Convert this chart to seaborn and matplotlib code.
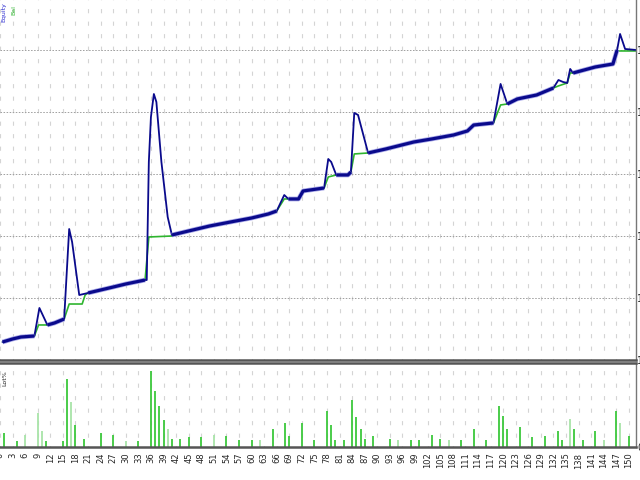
import numpy as np
import matplotlib
matplotlib.use("Agg")
import matplotlib.pyplot as plt
import seaborn as sns

# equity curve (trade number, money)
eq_trade = [0.6, 3, 5, 8.2, 9.4, 11.3, 13, 15.3, 16.5, 17.2, 18.9, 21, 24, 27, 30,
            34.6, 35.0, 35.5, 36.0, 36.7, 37.3, 38.5, 40, 41, 45, 50, 55, 60, 64, 66,
            67.8, 68.8, 71.2, 72.3, 77.3, 78.3, 79, 80.2, 83, 83.7, 84.5, 85.4, 87.8,
            92, 98.7, 103, 108.2, 111.5, 113, 117.7, 119.4, 121, 123.4, 128, 132,
            133.2, 134.3, 135.3, 136, 136.7, 142, 146.2, 147.2, 147.9, 149.1, 151.7]
eq_value = [10290, 10339, 10371, 10387, 10839, 10565, 10597, 10661, 12113, 11903, 11048,
            11081, 11129, 11177, 11226, 11290, 11290, 13194, 13919, 14290, 14161, 13194,
            12306, 12016, 12081, 12161, 12226, 12290, 12355, 12403, 12661, 12597, 12597,
            12726, 12774, 13242, 13194, 12984, 12984, 13032, 13984, 13952, 13339, 13403,
            13516, 13565, 13629, 13694, 13790, 13823, 14452, 14129, 14210, 14274, 14387,
            14516, 14484, 14468, 14694, 14629, 14726, 14774, 15000, 15258, 15016, 15000]

# balance curve
bal_trade = [0.6, 3, 5, 8.2, 9.2, 11.3, 13, 15.3, 16.5, 19.6, 20.3, 21, 24, 27, 30,
             34.6, 35.5, 41, 45, 50, 55, 60, 64, 66, 67.8, 71.2, 72.3, 77.3, 78.3,
             80.2, 83, 83.7, 84.5, 87.8, 92, 98.7, 103, 108.2, 111.5, 113, 117.7,
             119.4, 121, 123.4, 128, 132, 133.2, 135.3, 136, 136.7, 142, 146.2, 147.2,
             151.7]
bal_value = [10290, 10339, 10371, 10387, 10565, 10565, 10597, 10661, 10903, 10903,
             11048, 11081, 11129, 11177, 11226, 11290, 11984, 12000, 12081, 12161,
             12226, 12290, 12355, 12403, 12597, 12597, 12726, 12774, 12952, 12984,
             12984, 13032, 13323, 13339, 13403, 13516, 13565, 13629, 13694, 13790,
             13823, 14113, 14129, 14210, 14274, 14387, 14420, 14468, 14629, 14629,
             14726, 14774, 14984, 14984]

# lower panel: load per trade
bar_trade = [1, 4, 6, 9, 10, 11, 15, 16, 17, 18, 20, 24, 27, 30, 33, 36, 37, 38, 39,
             40, 41, 43, 45, 48, 51, 54, 57, 60, 62, 65, 68, 69, 72, 75, 78, 79, 80, 82,
             84, 85, 86, 87, 89, 93, 95, 98, 100, 103, 105, 107, 110, 113, 116, 119,
             120, 121, 124, 127, 130, 133, 134, 136, 137, 139, 142, 144, 147, 148, 150]
bar_load = [14, 6, 12, 34, 16, 6, 6, 68, 45, 22, 8, 14, 12, 6, 6, 76, 56, 41, 27,
            18, 8, 8, 10, 10, 12, 11, 7, 7, 7, 18, 24, 11, 24, 7, 36, 22, 7, 7,
            47, 30, 18, 8, 11, 8, 7, 7, 7, 12, 8, 7, 7, 18, 7, 41,
            31, 18, 20, 10, 11, 16, 7, 28, 18, 7, 16, 7, 36, 24, 11]
bar_light = [0, 0, 1, 1, 1, 0, 0, 0, 1, 0, 0, 0, 0, 1, 0, 0, 0, 0, 0,
             1, 0, 0, 0, 0, 1, 0, 0, 0, 1, 0, 0, 0, 0, 0, 0, 0, 0, 0,
             0, 0, 0, 0, 0, 0, 1, 0, 0, 0, 0, 1, 0, 0, 0, 0,
             0, 0, 0, 0, 0, 0, 0, 1, 0, 0, 0, 1, 0, 1, 0]

x_ticks = list(range(0, 151, 3))
y_ticks = [10000, 11000, 12000, 13000, 14000, 15000]

sns.set_style("white")
plt.rcParams['lines.scale_dashes'] = False
plt.rcParams['font.family'] = ['Liberation Sans Narrow', 'DejaVu Sans']

NAVY = '#0a0a8c'
GREEN = '#2fb52f'

fig = plt.figure(figsize=(6.4, 4.8), dpi=100)
ax1 = fig.add_axes([0, 0.25, 0.99375, 0.75])
ax2 = fig.add_axes([0, 0.06875, 0.99375, 0.175])

for ax in (ax1, ax2):
    ax.set_xlim(0.62, 151.7)
    ax.set_xticks(x_ticks)
    ax.grid(axis='x', linestyle=(2, (3, 6)), color='#d4d4d4', lw=0.8)
    ax.spines['left'].set_visible(False)
    ax.spines['right'].set_color('#777777')
    ax.spines['right'].set_linewidth(1.0)
    ax.tick_params(length=0)
    ax.set_axisbelow(True)

# top panel: balance / equity
ax1.set_ylim(10000, 15806)
ax1.set_yticks(y_ticks)
ax1.grid(axis='y', linestyle=(0, (1.1, 1.1)), color='#a0a0a0', lw=0.7)
ax1.yaxis.tick_right()
ax1.tick_params(axis='y', pad=1, labelsize=7)
ax1.set_xticklabels([])
ax1.spines['top'].set_visible(False)
ax1.spines['bottom'].set_color('#555555')
ax1.spines['bottom'].set_linewidth(1.8)

sns.lineplot(x=bal_trade, y=bal_value, ax=ax1, color=GREEN, lw=1.2, sort=False)
sns.lineplot(x=eq_trade, y=eq_value, ax=ax1, color=NAVY, lw=1.3, sort=False)
# equity sitting on the balance is drawn heavier
eq = np.array(eq_value, dtype=float)
bal_at_eq = np.interp(eq_trade, bal_trade, bal_value)
flat = np.where(np.abs(eq - bal_at_eq) < 25, eq, np.nan)
ax1.plot(eq_trade, flat, color='#a8a8e8', lw=3.4, solid_capstyle='butt', zorder=3)
ax1.plot(eq_trade, flat, color=NAVY, lw=2.3, solid_capstyle='butt', zorder=4)

# lower panel: per-trade bars
ax2.set_ylim(0, 84)
ax2.set_yticks([0])
ax2.yaxis.tick_right()
ax2.tick_params(axis='y', pad=1, labelsize=7)
ax2.set_yticklabels(['0'])
ax2.grid(axis='y', visible=False)
for s in ('top', 'bottom'):
    ax2.spines[s].set_color('#555555')
    ax2.spines[s].set_linewidth(1.8)
bt = np.array(bar_trade)
bl = np.array(bar_load)
lt = np.array(bar_light, dtype=bool)
ax2.vlines(bt[~lt], 0, bl[~lt], color='#3cc83c', lw=1.3)
ax2.vlines(bt[lt], 0, bl[lt], color='#a8e4a8', lw=1.3)
ax2.set_xticklabels([str(t) for t in x_ticks], fontsize=6, rotation=90)
ax2.tick_params(axis='x', pad=4)

fig.text(0.002, 0.995, 'Equity', color='#2a2ad0', fontsize=4.5, rotation=90,
         ha='left', va='top')
fig.text(0.018, 0.99, 'Bal', color='#2fb52f', fontsize=4.5, rotation=90,
         ha='left', va='top')
fig.text(0.003, 0.228, 'Lot%', color='#222222', fontsize=4.5, rotation=90,
         ha='left', va='top')

fig.savefig('out.png', dpi=100)
